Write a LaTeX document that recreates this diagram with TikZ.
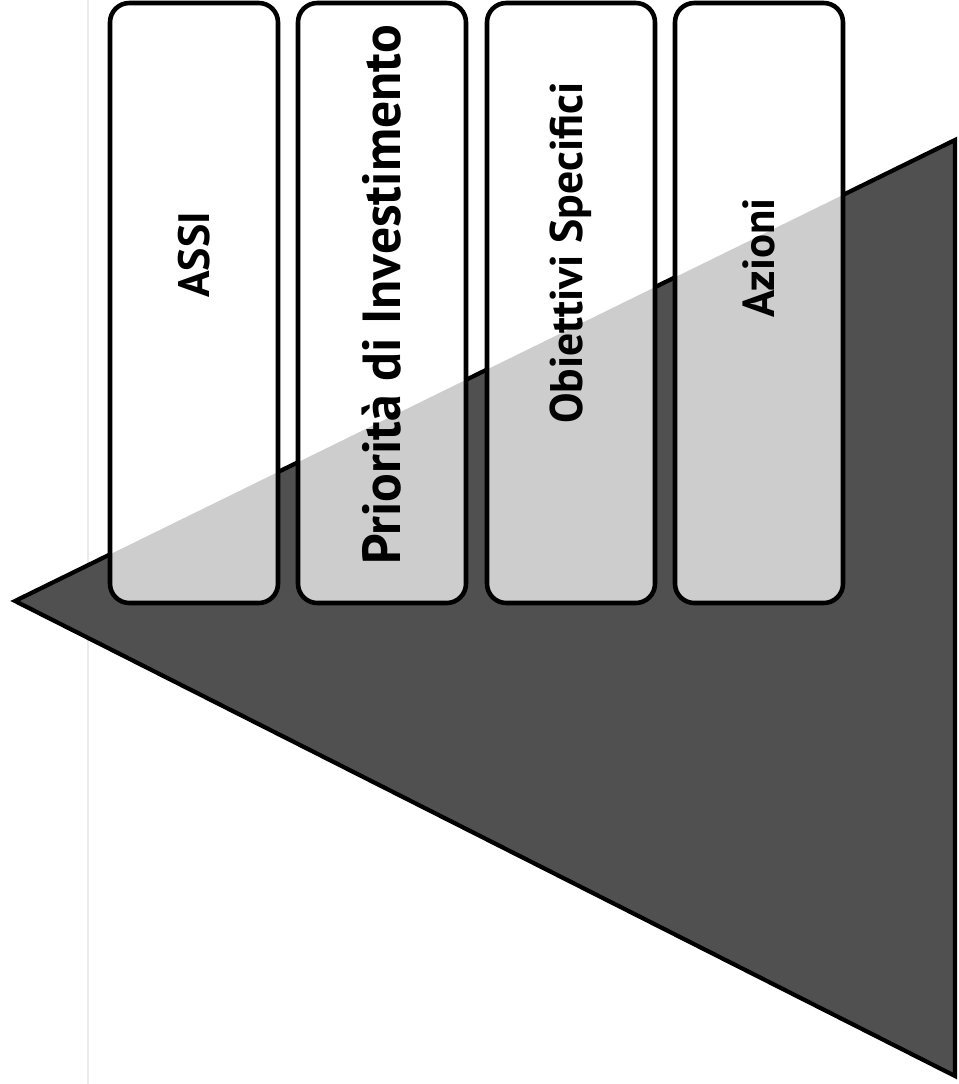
\documentclass[tikz,border=0pt]{standalone}
\usepackage{fontspec}
\setmainfont{PT Sans}
\usetikzlibrary{calc}

\definecolor{wedgegray}{HTML}{505050}
\definecolor{stipple}{HTML}{CDCDCD}
\tikzset{
  tier/.style={draw=black, line width=2.6pt, rounded corners=11pt},
  tierlabel/.style={rotate=90, font=\bfseries\fontsize{#1}{36}\selectfont},
}

\begin{document}
\begin{tikzpicture}[x=0.2mm, y=-0.2mm]
\useasboundingbox (0,0) rectangle (958,1084);
% edge of the scanned page
\draw [black!8, line width=0.6pt] (88,0) -- (88,1084);
% the wedge
\coordinate (tip) at (15,601);
\coordinate (top) at (955,140);
\coordinate (bot) at (955,1076);
\filldraw [fill=wedgegray, line width=2.4pt, line join=miter] (tip) -- (top) -- (bot) -- cycle;
% the four tiers
\foreach \name/\xa/\ya/\sz/\txt in {assi/110/255/25/ASSI, prio/298/295/30.5/Priorità di Investimento,
    obie/487/253/26/Obiettivi Specifici, azio/675/258/25.5/Azioni} {
  \fill [white, rounded corners=11pt] (\xa,3) rectangle ++(168,600);
  \begin{scope}
    \clip [rounded corners=11pt] (\xa,3) rectangle ++(168,600);
    \fill [stipple] (tip) -- (top) -- (bot) -- cycle;
  \end{scope}
  \draw [tier] (\xa,3) rectangle ++(168,600);
  \node [tierlabel=\sz] (\name) at ({\xa+84},\ya) {\txt};
}

\end{tikzpicture}
\end{document}
